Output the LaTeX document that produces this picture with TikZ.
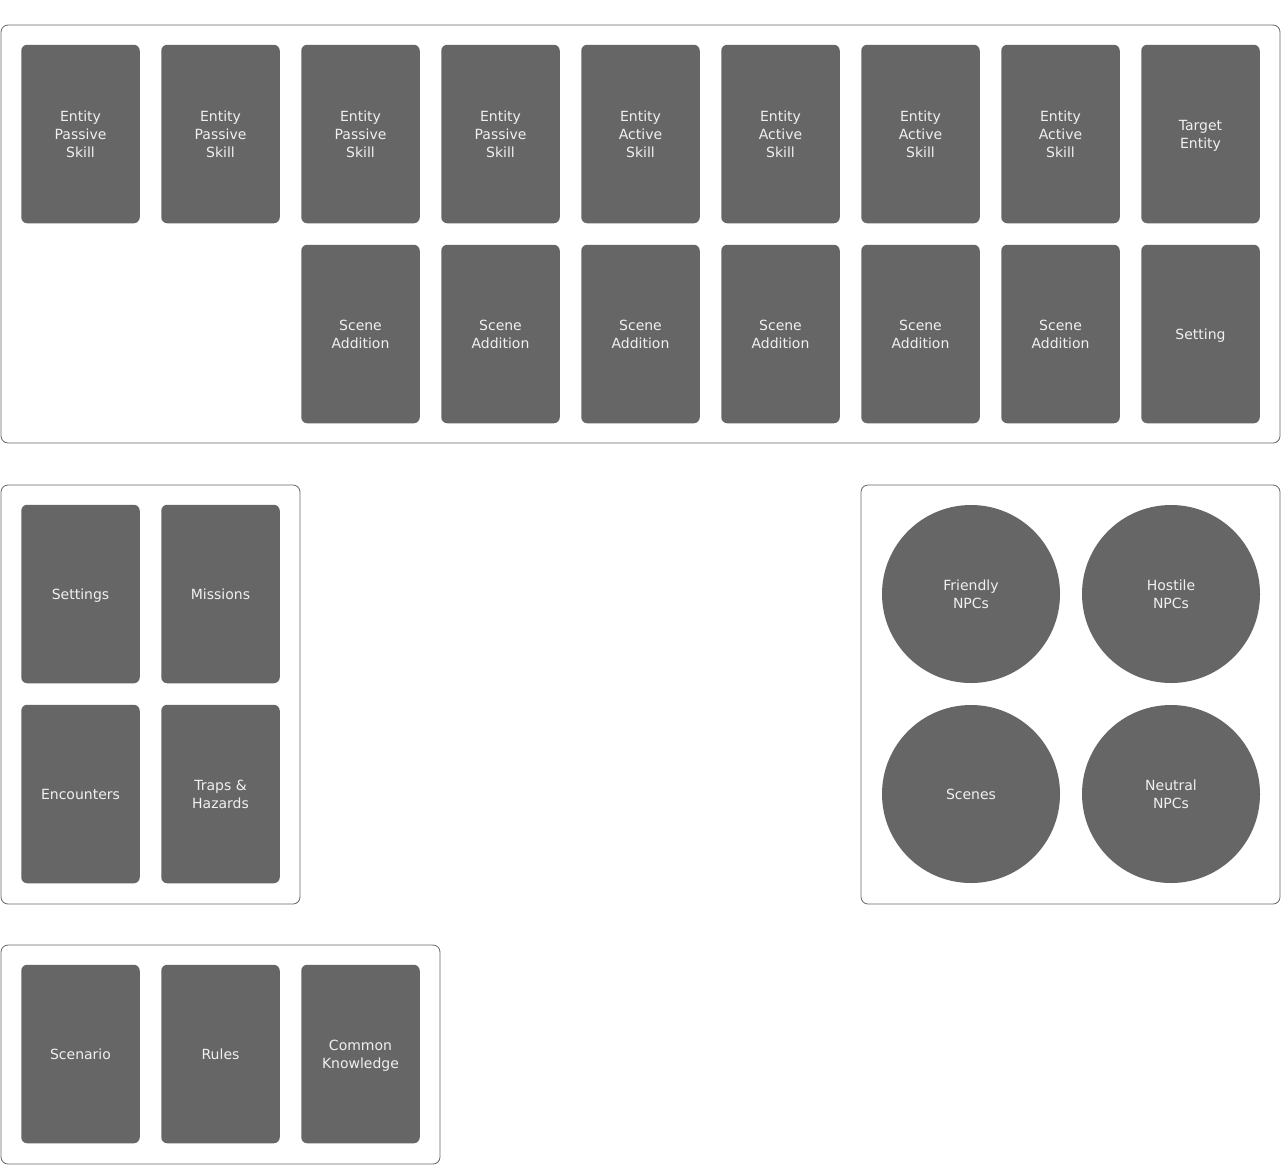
\documentclass[tikz,border=0pt]{standalone}
\usepackage{fontspec}
\setmainfont{DejaVu Sans}
\definecolor{cardgray}{HTML}{666666}
\definecolor{cardtext}{HTML}{F0F0F0}
\newcommand{\lnstrut}{\rule[-3.5pt]{0pt}{18pt}}
\tikzset{
  labeltext/.style={text=cardtext, align=center, font=\fontsize{14}{18}\selectfont},
  card/.style={labeltext, fill=cardgray, draw=none, rounded corners=6pt, minimum width=118.5pt, minimum height=178.5pt, inner sep=0pt},
  disc/.style={labeltext, circle, fill=cardgray, draw=none, minimum size=178pt, inner sep=0pt},
  container/.style={draw=cardgray, line width=0.8pt, rounded corners=7pt, fill=white}
}
\begin{document}
\begin{tikzpicture}[x=1pt,y=-1pt]
\useasboundingbox (0,0) rectangle (1281,1165);
% containers
\draw[container] (1,25) rectangle (1280,443);
\draw[container] (1,485) rectangle (300,904);
\draw[container] (861,485) rectangle (1280,904);
\draw[container] (1,945) rectangle (440,1164);
% top row
\node[card] (p1) at (80.5,134) {\lnstrut Entity\\Passive\\Skill\lnstrut};
\node[card] (p2) at (220.5,134) {\lnstrut Entity\\Passive\\Skill\lnstrut};
\node[card] (p3) at (360.5,134) {\lnstrut Entity\\Passive\\Skill\lnstrut};
\node[card] (p4) at (500.5,134) {\lnstrut Entity\\Passive\\Skill\lnstrut};
\node[card] (a1) at (640.5,134) {\lnstrut Entity\\Active\\Skill\lnstrut};
\node[card] (a2) at (780.5,134) {\lnstrut Entity\\Active\\Skill\lnstrut};
\node[card] (a3) at (920.5,134) {\lnstrut Entity\\Active\\Skill\lnstrut};
\node[card] (a4) at (1060.5,134) {\lnstrut Entity\\Active\\Skill\lnstrut};
\node[card] (te) at (1200.5,134) {\lnstrut Target\\Entity\lnstrut};
% second row
\node[card] (s1) at (360.5,334) {\lnstrut Scene\\Addition\lnstrut};
\node[card] (s2) at (500.5,334) {\lnstrut Scene\\Addition\lnstrut};
\node[card] (s3) at (640.5,334) {\lnstrut Scene\\Addition\lnstrut};
\node[card] (s4) at (780.5,334) {\lnstrut Scene\\Addition\lnstrut};
\node[card] (s5) at (920.5,334) {\lnstrut Scene\\Addition\lnstrut};
\node[card] (s6) at (1060.5,334) {\lnstrut Scene\\Addition\lnstrut};
\node[card] (set) at (1200.5,334) {\lnstrut Setting};
% left middle
\node[card] (settings) at (80.5,594) {\lnstrut Settings};
\node[card] (missions) at (220.5,594) {\lnstrut Missions};
\node[card] (enc) at (80.5,794) {\lnstrut Encounters};
\node[card] (traps) at (220.5,794) {\lnstrut Traps \&\\Hazards\lnstrut};
% right circles
\node[disc] (fr) at (971,594) {\lnstrut Friendly\\NPCs\lnstrut};
\node[disc] (ho) at (1171,594) {\lnstrut Hostile\\NPCs\lnstrut};
\node[disc] (sc) at (971,794) {\lnstrut Scenes};
\node[disc] (ne) at (1171,794) {\lnstrut Neutral\\NPCs\lnstrut};
% bottom
\node[card] (scen) at (80.5,1054) {\lnstrut Scenario};
\node[card] (rules) at (220.5,1054) {\lnstrut Rules};
\node[card] (ck) at (360.5,1054) {\lnstrut Common\\Knowledge\lnstrut};
\end{tikzpicture}
\end{document}
